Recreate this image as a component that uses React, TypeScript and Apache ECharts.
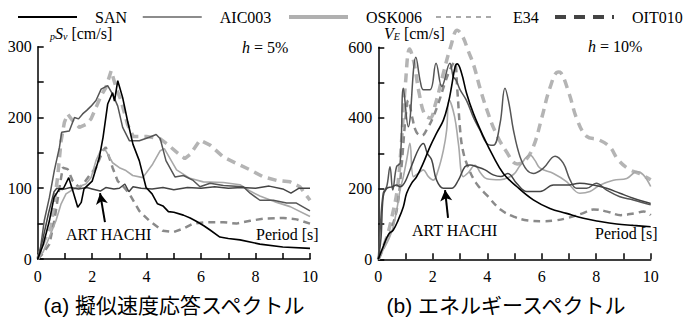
import React, { useEffect, useRef } from "react";
import * as echarts from "echarts";

type P = [number, number][];

// ---------- (a) pseudo velocity response spectra  pSv [cm/s], h = 5% ----------
const SAN_PSV: P = [[0,0],[0.2,20],[0.43,54],[0.6,87],[0.8,99],[0.95,100],[1.14,115],[1.3,95],[1.47,73],[1.6,80],[1.7,99],[2.0,110],[2.26,143],[2.4,172],[2.57,219],[2.75,235],[2.82,223],[2.94,252],[3.12,228],[3.3,195],[3.5,162],[3.73,139],[3.98,101],[4.2,92],[4.4,78],[4.6,75],[4.8,67],[5.0,66],[5.35,62],[5.6,58],[5.84,53],[6.1,47],[6.33,41],[6.69,31],[7.0,29],[7.43,27],[8.16,21],[9.0,17],[10,15]];
const ART_PSV: P = [[0,0],[0.2,30],[0.4,65],[0.6,95],[0.7,100],[0.9,98],[1.2,101],[1.5,99],[1.8,101],[2.0,99],[2.3,96],[2.5,101],[2.8,99],[3.0,100],[3.2,106],[3.35,95],[3.5,102],[3.8,100],[4.2,99],[4.6,101],[5.0,98],[5.5,101],[6.0,100],[6.5,102],[7.0,100],[7.5,101],[8.0,100],[8.5,103],[9.0,99],[9.3,93],[9.6,100],[10,100]];
const AIC_PSV: P = [[0,0],[0.1,15],[0.24,54],[0.43,87],[0.61,125],[0.8,158],[0.88,179],[1.16,181],[1.35,200],[1.5,198],[1.65,205],[1.8,210],[1.96,216],[2.14,224],[2.33,240],[2.57,245],[2.75,233],[2.94,216],[3.12,186],[3.37,167],[3.73,167],[4.1,172],[4.35,176],[4.5,170],[4.71,139],[5.04,116],[5.35,118],[5.71,111],[5.96,102],[6.33,107],[6.82,104],[7.55,102],[7.8,93],[8.16,83],[8.65,83],[9.14,79],[9.5,79],[10,68]];
const OSK_PSV: P = [[0,0],[0.2,10],[0.43,31],[0.67,54],[0.86,78],[1.04,92],[1.41,101],[1.77,106],[1.96,115],[2.14,139],[2.33,155],[2.5,153],[2.75,136],[3.0,129],[3.24,125],[3.49,118],[3.86,115],[4.22,134],[4.5,153],[4.65,156],[5.1,126],[5.59,114],[6.08,109],[6.82,108],[7.43,105],[7.8,96],[8.16,89],[8.78,80],[9.27,74],[10,60]];
const E34_PSV: P = [[0,0],[0.24,26],[0.49,45],[0.73,115],[0.86,167],[0.98,193],[1.1,205],[1.29,195],[1.53,186],[1.77,190],[1.96,198],[2.14,214],[2.33,231],[2.5,242],[2.7,266],[2.88,242],[3.06,224],[3.3,190],[3.51,173],[4.0,173],[4.49,170],[4.74,163],[5.1,151],[5.4,142],[5.6,148],[5.96,168],[6.33,161],[6.82,144],[7.3,135],[7.8,126],[8.29,116],[8.78,111],[9.27,109],[9.63,102],[10,83]];
const OIT_PSV: P = [[0,0],[0.2,8],[0.43,21],[0.61,54],[0.8,101],[0.92,129],[1.1,127],[1.29,110],[1.53,101],[1.71,108],[1.9,118],[2.14,129],[2.39,153],[2.5,158],[2.75,129],[2.94,110],[3.18,101],[3.37,92],[3.73,68],[4.1,54],[4.59,40],[4.98,38],[5.35,43],[5.71,50],[6.2,52],[6.82,52],[7.3,50],[7.8,54],[8.29,57],[9.02,58],[9.51,56],[10,50]];

// ---------- (b) energy spectra  VE [cm/s], h = 10% ----------
const SAN_VE: P = [[0,0],[0.18,36],[0.37,70],[0.55,83],[0.73,111],[0.92,149],[1.04,187],[1.22,215],[1.41,234],[1.65,272],[1.9,319],[2.14,357],[2.39,394],[2.57,442],[2.69,489],[2.82,545],[2.9,553],[3.06,526],[3.24,470],[3.49,413],[3.86,347],[4.22,291],[4.59,243],[5.08,206],[5.69,168],[6.3,144],[6.91,130],[7.53,116],[8.14,107],[8.75,100],[9.36,96],[10,92]];
const ART_VE: P = [[0,0],[0.1,60],[0.18,177],[0.3,200],[0.5,205],[0.67,210],[0.8,205],[0.95,215],[1.1,240],[1.3,280],[1.5,315],[1.65,328],[1.8,300],[1.96,281],[2.14,224],[2.39,201],[2.69,201],[2.94,224],[3.18,262],[3.37,267],[3.61,262],[3.92,253],[4.22,239],[4.5,234],[4.75,243],[5.08,215],[5.45,192],[5.94,192],[6.43,210],[6.91,210],[7.4,215],[7.89,210],[8.38,201],[8.87,187],[9.36,173],[10,158]];
const AIC_VE: P = [[0,0],[0.06,74],[0.18,187],[0.31,206],[0.43,262],[0.53,196],[0.67,262],[0.8,272],[0.92,484],[1.1,375],[1.38,572],[1.55,500],[1.66,480],[1.9,480],[2.12,555],[2.33,489],[2.63,555],[2.75,517],[2.85,508],[3.0,480],[3.24,449],[3.5,400],[3.73,366],[3.98,328],[4.22,323],[4.47,385],[4.65,484],[4.8,440],[4.96,366],[5.2,291],[5.45,253],[5.69,243],[6.06,258],[6.49,292],[6.79,272],[7.04,225],[7.28,201],[7.65,201],[8.0,215],[8.38,196],[8.87,177],[9.36,168],[10,154]];
const OSK_VE: P = [[0,0],[0.2,30],[0.4,60],[0.55,92],[0.7,150],[0.8,196],[0.92,234],[1.04,281],[1.16,328],[1.29,234],[1.47,243],[1.65,253],[1.84,234],[2.02,224],[2.2,253],[2.39,309],[2.51,366],[2.6,451],[2.8,404],[2.94,328],[3.12,234],[3.3,245],[3.55,266],[3.75,245],[3.98,228],[4.47,225],[4.96,240],[5.2,265],[5.57,295],[5.75,280],[5.94,258],[6.43,243],[6.91,220],[7.4,187],[7.77,192],[8.14,210],[8.63,224],[9.12,229],[9.49,248],[9.73,239],[10,206]];
const E34_VE: P = [[0,0],[0.3,60],[0.5,120],[0.7,200],[0.85,330],[1.0,500],[1.15,595],[1.3,560],[1.5,470],[1.7,410],[1.9,400],[2.1,440],[2.4,530],[2.65,600],[2.9,648],[3.1,630],[3.3,590],[3.5,550],[3.75,480],[4.0,420],[4.3,360],[4.7,305],[5.1,270],[5.4,280],[5.7,320],[6.0,400],[6.3,485],[6.6,530],[6.7,528],[7.0,470],[7.3,395],[7.65,348],[8.1,338],[8.5,318],[8.8,282],[9.2,255],[9.6,242],[10,225]];
const OIT_VE: P = [[0,0],[0.3,50],[0.5,90],[0.7,150],[0.85,260],[1.0,400],[1.1,450],[1.25,400],[1.4,360],[1.6,350],[1.8,370],[2.0,400],[2.2,440],[2.45,500],[2.65,540],[2.8,558],[2.9,480],[3.0,370],[3.1,310],[3.3,260],[3.6,215],[4.0,180],[4.5,140],[5.0,120],[5.5,110],[6.0,108],[6.5,110],[7.0,118],[7.5,130],[7.9,141],[8.4,135],[8.9,125],[9.4,130],[9.75,135],[10,125]];

const LEGEND_NAMES = ["SAN", "AIC003", "OSK006", "E34", "OIT010"];
const X_TICKS = [0, 2, 4, 6, 8, 10];
const PSV_LABELS = [0, 100, 200, 300];
const VE_LABELS = [0, 200, 400, 600];

const SERIF = '"Liberation Serif", "Times New Roman", serif';
const SANS = '"Liberation Sans", "Noto Sans CJK JP", sans-serif';

const styles: Record<string, any> = {
  SAN: { color: "#000", width: 1.6, type: "solid" },
  ART: { color: "#444", width: 1.5, type: "solid" },
  AIC003: { color: "#555", width: 1.5, type: "solid" },
  OSK006: { color: "#a8a8a8", width: 1.6, type: "solid" },
  E34: { color: "#b4b4b4", width: 3.5, type: [9, 6] },
  OIT010: { color: "#8a8a8a", width: 2.5, type: [7, 5] },
};

const legendIcons: Record<string, any> = {
  SAN: { left: 12, lineStyle: { color: "#000", width: 2, type: "solid" } },
  AIC003: { left: 137, lineStyle: { color: "#666", width: 1.5, type: "solid" } },
  OSK006: { left: 282, lineStyle: { color: "#b0b0b0", width: 4, type: "solid" } },
  E34: { left: 430, lineStyle: { color: "#aaa", width: 2, type: [5, 5] } },
  OIT010: { left: 548, lineStyle: { color: "#444", width: 4, type: [11, 8] } },
};

export default function App() {
  const ref = useRef<HTMLDivElement>(null);
  useEffect(() => {
    if (!ref.current) return;
    const chart = echarts.init(ref.current, undefined, { renderer: "svg" });

    const xAxis = (gi: number) => ({
      gridIndex: gi,
      type: "value",
      min: 0,
      max: 10,
      interval: 1,
      axisLine: { show: true, onZero: false, lineStyle: { color: "#000", width: 1.5 } },
      axisTick: { show: true, inside: true, length: 6, lineStyle: { color: "#000", width: 1.5 } },
      axisLabel: {
        formatter: (v: number) => (X_TICKS.includes(v) ? String(v) : ""),
        fontFamily: SERIF, fontSize: 16, color: "#000", margin: 9,
      },
      splitLine: { show: false },
    });
    const yAxis = (gi: number, max: number, interval: number, labels: number[]) => ({
      gridIndex: gi,
      type: "value",
      min: 0,
      max,
      interval,
      axisLine: { show: true, lineStyle: { color: "#000", width: 1.5 } },
      axisTick: { show: true, inside: true, length: 6, lineStyle: { color: "#000", width: 1.5 } },
      axisLabel: {
        formatter: (v: number) => (labels.includes(v) ? String(v) : ""),
        fontFamily: SERIF, fontSize: 16, color: "#000", margin: 6,
      },
      splitLine: { show: false },
    });

    const line = (name: string, key: string, data: P, gi: number, smooth: number | boolean, extra: any = {}) => ({
      name,
      type: "line",
      xAxisIndex: gi,
      yAxisIndex: gi,
      data,
      symbol: "none",
      smooth,
      clip: false,
      lineStyle: { ...styles[key] },
      itemStyle: { color: styles[key].color },
      emphasis: { disabled: true },
      z: 2,
      ...extra,
    });

    const arrow = (from: number[], to: number[]) => ({
      silent: true,
      symbol: ["none", "arrow"],
      symbolSize: [9, 11],
      lineStyle: { color: "#000", width: 2, type: "solid" },
      label: { show: false },
      emphasis: { disabled: true },
      data: [[{ coord: from }, { coord: to }]],
    });

    const legends = LEGEND_NAMES.map((name) => ({
      top: 4,
      left: legendIcons[name].left,
      itemWidth: 59,
      itemHeight: 14,
      selectedMode: false,
      itemStyle: { opacity: 0 },
      textStyle: { fontFamily: SERIF, fontSize: 16, color: "#000", padding: [0, 0, 0, 13] },
      data: [{ name, lineStyle: legendIcons[name].lineStyle, itemStyle: { opacity: 0 } }],
    }));

    const option: any = {
      animation: false,
      legend: legends,
      grid: [
        { left: 37.7, right: 386, top: 46.7, bottom: 61 },
        { left: 378.3, right: 45.3, top: 47.3, bottom: 60.7 },
      ],
      xAxis: [xAxis(0), xAxis(1)],
      yAxis: [yAxis(0, 300, 50, PSV_LABELS), yAxis(1, 600, 100, VE_LABELS)],
      series: [
        line("E34", "E34", E34_PSV, 0, false),
        line("OIT010", "OIT010", OIT_PSV, 0, false),
        line("OSK006", "OSK006", OSK_PSV, 0, false),
        line("AIC003", "AIC003", AIC_PSV, 0, false),
        line("ART HACHI", "ART", ART_PSV, 0, false, { markLine: arrow([2.47, 52], [2.29, 93]) }),
        line("SAN", "SAN", SAN_PSV, 0, false),
        line("E34", "E34", E34_VE, 1, 0.4),
        line("OIT010", "OIT010", OIT_VE, 1, 0.4),
        line("OSK006", "OSK006", OSK_VE, 1, 0.4),
        line("AIC003", "AIC003", AIC_VE, 1, 0.4),
        line("ART HACHI", "ART", ART_VE, 1, 0.4, { markLine: arrow([2.56, 117], [2.45, 196]) }),
        line("SAN", "SAN", SAN_VE, 1, 0.4),
      ],
      graphic: [
        {
          type: "text", x: 50, y: 33,
          style: {
            text: "{s|p}{i|S}{s|v} [cm/s]",
            textVerticalAlign: "middle",
            font: `16px ${SERIF}`,
            fill: "#000",
            rich: {
              s: { fontSize: 10, fontStyle: "italic", fontFamily: SERIF, verticalAlign: "bottom" },
              i: { fontSize: 16, fontStyle: "italic", fontFamily: SERIF },
            },
          },
        },
        {
          type: "text", x: 384, y: 33,
          style: {
            text: "{i|V}{s|E} [cm/s]",
            textVerticalAlign: "middle",
            font: `16px ${SERIF}`,
            fill: "#000",
            rich: {
              s: { fontSize: 10, fontStyle: "italic", fontFamily: SERIF, verticalAlign: "bottom" },
              i: { fontSize: 16, fontStyle: "italic", fontFamily: SERIF },
            },
          },
        },
        {
          type: "text", x: 242, y: 47,
          style: {
            text: "{i|h} = 5%", textVerticalAlign: "middle", font: `16px ${SERIF}`, fill: "#000",
            rich: { i: { fontSize: 16, fontStyle: "italic", fontFamily: SERIF } },
          },
        },
        {
          type: "text", x: 588, y: 46,
          style: {
            text: "{i|h} = 10%", textVerticalAlign: "middle", font: `16px ${SERIF}`, fill: "#000",
            rich: { i: { fontSize: 16, fontStyle: "italic", fontFamily: SERIF } },
          },
        },
        { type: "text", x: 256, y: 234, style: { text: "Period [s]", textVerticalAlign: "middle", font: `16px ${SERIF}`, fill: "#000" } },
        { type: "text", x: 595, y: 233, style: { text: "Period [s]", textVerticalAlign: "middle", font: `16px ${SERIF}`, fill: "#000" } },
        { type: "text", x: 66, y: 234, style: { text: "ART HACHI", textVerticalAlign: "middle", font: `16px ${SERIF}`, fill: "#000" } },
        { type: "text", x: 412, y: 230, style: { text: "ART HACHI", textVerticalAlign: "middle", font: `16px ${SERIF}`, fill: "#000" } },
        { type: "text", x: 174, y: 305, style: { text: "(a) 擬似速度応答スペクトル", textAlign: "center", textVerticalAlign: "middle", font: `21px ${SANS}`, fill: "#000" } },
        { type: "text", x: 506, y: 305, style: { text: "(b) エネルギースペクトル", textAlign: "center", textVerticalAlign: "middle", font: `21px ${SANS}`, fill: "#000" } },
      ],
    };
    chart.setOption(option);
    return () => chart.dispose();
  }, []);
  return <div ref={ref} style={{ position: "absolute", left: 0, top: 0, width: 696, height: 320, background: "#fff" }} />;
}
